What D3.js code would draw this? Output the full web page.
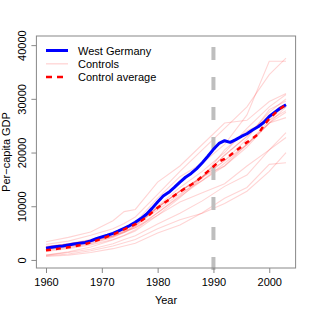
<!DOCTYPE html>
<html>
<head>
<meta charset="utf-8">
<script src="https://cdn.jsdelivr.net/npm/d3@7"></script>
<style>
  body { margin: 0; background: #fff; }
  text { font-family: "Liberation Sans", Arial, Helvetica, sans-serif; }
</style>
</head>
<body>
<script>
// yearly series
var years = d3.range(1960, 2004);
var westGermany = [2200, 2350, 2500, 2600, 2800, 2950, 3100, 3250, 3550, 3950,
    4300, 4600, 4950, 5400, 5900, 6400, 7000, 7700, 8500, 9600,
    10800, 11900, 12600, 13500, 14500, 15400, 16100, 17000, 18100, 19300,
    20600, 21700, 22200, 21900, 22400, 23000, 23500, 24200, 24800, 25600,
    26700, 27500, 28300, 28900];
var controlAvg = [1800, 1930, 2060, 2200, 2350, 2520, 2720, 2950, 3250, 3600,
    3950, 4350, 4750, 5200, 5700, 6150, 6650, 7250, 7950, 8850,
    9700, 10500, 11200, 12000, 12700, 13400, 14000, 14700, 15600, 16500,
    17400, 18300, 18800, 19500, 20300, 21100, 21900, 22600, 23400, 25000,
    26300, 27300, 28200, 28900];

// control units, read at these years
var controlYears = [1960, 1964, 1968, 1972, 1974, 1976, 1980, 1984, 1988, 1992, 1996, 2000, 2003];
var controls = [
    [3400, 4200, 5200, 7300, 9000, 9400, 14500, 17500, 21500, 25500, 26000, 29500, 31000],
    [2900, 3500, 4600, 5800, 6800, 8000, 12200, 16500, 20500, 24500, 28500, 34500, 37600],
    [2100, 2600, 3300, 4500, 5600, 7000, 11500, 15500, 18000, 21500, 27000, 37000, 37000],
    [2400, 3000, 3800, 5000, 5800, 6800, 10000, 13500, 16500, 20000, 24500, 28500, 30800],
    [2300, 2800, 3600, 4800, 5700, 6600, 9800, 12800, 15500, 18500, 22500, 28000, 29600],
    [1800, 2300, 3000, 4200, 5100, 6200, 9700, 12800, 15500, 19500, 23000, 27500, 30000],
    [1900, 2400, 3100, 4300, 5200, 6300, 9800, 12800, 15500, 19500, 23000, 27000, 28500],
    [2000, 2600, 3400, 4500, 5400, 6400, 9800, 12900, 15300, 18500, 21500, 25500, 27500],
    [2300, 2800, 3500, 4400, 5100, 6000, 8800, 12000, 15500, 17500, 21000, 25500, 28500],
    [1600, 2100, 2800, 3800, 4600, 5600, 8800, 11800, 14800, 18000, 21500, 25500, 26500],
    [900, 1500, 2400, 3700, 4500, 5400, 8300, 11600, 15300, 20500, 24000, 26000, 27800],
    [2500, 3000, 3700, 4800, 5700, 6600, 9300, 12300, 14800, 17500, 21500, 26000, 29000],
    [2500, 3000, 3500, 4500, 5300, 6000, 8300, 10800, 12500, 14200, 17500, 20500, 22800],
    [900, 1400, 2000, 3000, 3800, 4500, 6700, 8700, 11000, 13700, 15800, 20500, 23700],
    [750, 1100, 1700, 2600, 3200, 3800, 5800, 7500, 8700, 10500, 12800, 16500, 20000],
    [650, 900, 1400, 2100, 2600, 3100, 5000, 6500, 8800, 11500, 13500, 17800, 18100]
];

var xTicks = [1960, 1970, 1980, 1990, 2000];
var yTicks = [0, 10000, 20000, 30000, 40000];
var treatYear = 1990;
var legendLabels = ['West Germany', 'Controls', 'Control average'];

var width = 315, height = 315;
var plot = { left: 36.4, right: 295.6, top: 36, bottom: 268 };

var svg = d3.select('body').append('svg').attr('width', width).attr('height', height);

var x = d3.scaleLinear().domain([1958.28, 2004.72]).range([plot.left, plot.right]);
var y = d3.scaleLinear().domain([-1500, 41700]).range([plot.bottom, plot.top]);

var line = d3.line()
    .x(function (d) { return x(d[0]); })
    .y(function (d) { return y(d[1]); });

// controls
svg.append('g').selectAll('path')
    .data(controls)
    .enter().append('path')
    .attr('d', function (c) { return line(d3.zip(controlYears, c)); })
    .attr('fill', 'none')
    .attr('stroke', 'red')
    .attr('stroke-opacity', 0.17)
    .attr('stroke-width', 1.1);

// treatment year
svg.append('line')
    .attr('x1', x(treatYear)).attr('x2', x(treatYear))
    .attr('y1', 270).attr('y2', plot.top)
    .attr('stroke', '#bebebe')
    .attr('stroke-width', 4)
    .attr('stroke-dasharray', '13,17');

svg.append('path')
    .attr('d', line(d3.zip(years, westGermany)))
    .attr('fill', 'none')
    .attr('stroke', '#0000ff')
    .attr('stroke-width', 3)
    .attr('stroke-linejoin', 'round');

svg.append('path')
    .attr('d', line(d3.zip(years, controlAvg)))
    .attr('fill', 'none')
    .attr('stroke', '#ff0000')
    .attr('stroke-width', 2.5)
    .attr('stroke-dasharray', '5,5');

// box
svg.append('rect')
    .attr('x', plot.left).attr('y', plot.top)
    .attr('width', plot.right - plot.left).attr('height', plot.bottom - plot.top)
    .attr('fill', 'none')
    .attr('stroke', '#888')
    .attr('stroke-width', 1);

// axes
var xAxis = svg.append('g')
    .attr('transform', 'translate(0,' + plot.bottom + ')')
    .call(d3.axisBottom(x).tickValues(xTicks).tickFormat(d3.format('d')).tickSize(5).tickSizeOuter(0).tickPadding(5));
xAxis.select('.domain').remove();
xAxis.selectAll('line').attr('stroke', '#888');
xAxis.selectAll('text').attr('font-size', 11).attr('fill', '#000');
xAxis.attr('font-family', null);

var yAxis = svg.append('g')
    .attr('transform', 'translate(' + plot.left + ',0)')
    .call(d3.axisLeft(y).tickValues(yTicks).tickFormat(d3.format('d')).tickSize(5).tickSizeOuter(0));
yAxis.select('.domain').remove();
yAxis.attr('font-family', null);
yAxis.selectAll('line').attr('stroke', '#888');
yAxis.selectAll('text')
    .attr('x', null).attr('dy', null)
    .attr('font-size', 11).attr('fill', '#000')
    .attr('text-anchor', 'middle')
    .attr('transform', 'translate(-10.5,0) rotate(-90)');

svg.append('text')
    .attr('x', (plot.left + plot.right) / 2).attr('y', 303.5)
    .attr('text-anchor', 'middle')
    .attr('font-size', 11)
    .text('Year');

svg.append('text')
    .attr('transform', 'translate(10,' + (plot.top + plot.bottom) / 2 + ') rotate(-90)')
    .attr('text-anchor', 'middle')
    .attr('font-size', 11)
    .text('Per\u2212capita GDP');

// legend
var legend = svg.append('g');
var legendStyles = [
    { stroke: '#0000ff', width: 3, dash: null, opacity: 1 },
    { stroke: 'red', width: 1.5, dash: null, opacity: 0.15 },
    { stroke: '#ff0000', width: 2.5, dash: '6,5', opacity: 1 }
];
legendLabels.forEach(function (lab, i) {
    var ly = 50.5 + i * 13.3;
    var s = legendStyles[i];
    legend.append('line')
        .attr('x1', 46).attr('x2', 68)
        .attr('y1', ly).attr('y2', ly)
        .attr('stroke', s.stroke)
        .attr('stroke-width', s.width)
        .attr('stroke-opacity', s.opacity)
        .attr('stroke-dasharray', s.dash);
    legend.append('text')
        .attr('x', 78).attr('y', ly + 4)
        .attr('font-size', 11)
        .text(lab);
});
</script>
</body>
</html>
